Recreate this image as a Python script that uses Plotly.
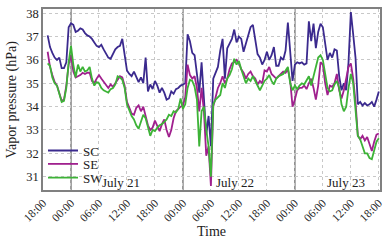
import plotly.graph_objects as go

# hours since July 20 18:00, half-hourly from 19:00
hours = [1 + 0.5 * i for i in range(143)]

sc_vp = [37.05, 36.55, 36.3, 36.1, 36.0, 36.1, 35.65, 35.65, 35.9, 37.4,
         37.57, 37.5, 37.2, 37.25, 37.35, 37.3, 37.15, 37.05, 37.0, 36.9,
         36.75, 36.6, 36.55, 36.65, 36.45, 36.25, 36.1, 36.05, 36.25, 36.45,
         36.55, 36.6, 36.9, 36.2, 35.55, 35.4, 35.3, 35.5, 35.3, 35.05,
         35.25, 35.0, 36.1, 34.65, 34.95, 34.75, 35.1, 34.9, 34.6, 34.8,
         34.6, 34.3, 34.35, 34.65, 34.55, 34.75, 34.8, 34.9, 34.95, 35.0,
         37.1, 36.8, 36.3, 36.2, 35.4, 34.6, 35.9, 34.5, 32.8, 33.6,
         32.3, 35.2, 35.45, 35.7, 36.4, 36.9, 35.2, 36.5, 36.7, 36.9,
         37.3, 36.75, 37.0, 36.9, 36.35, 36.7, 37.0, 37.4, 37.5, 36.9,
         36.25, 36.1, 35.8, 36.0, 36.35, 36.0, 36.2, 36.55, 35.75, 35.75,
         36.1, 36.0, 36.4, 37.6, 36.4, 35.1, 35.8, 35.9, 35.85, 35.9,
         35.8, 35.85, 37.65, 36.8, 37.55, 36.5, 37.2, 37.55, 37.4, 36.75,
         36.0, 36.3, 36.1, 36.45, 36.4, 35.3, 34.7, 35.0, 34.7, 35.9,
         38.05, 37.1, 36.1, 34.1, 34.2, 34.05, 34.15, 34.05, 34.1, 34.2,
         34.0, 34.3, 34.65]

se_vp = [36.35, 35.7, 35.35, 35.05, 34.9, 34.55, 34.25, 34.3, 34.9, 35.8,
         36.2, 35.5, 35.25, 35.3, 35.35, 35.45, 35.4, 35.45, 35.45, 35.1,
         35.0, 35.2, 35.35, 35.2, 35.05, 34.95, 34.8, 34.95, 34.85, 35.0,
         35.15, 35.3, 35.25, 34.9, 34.2, 33.9, 33.7, 33.65, 33.95, 34.05,
         33.8, 34.0, 33.65, 33.2, 33.0, 33.1, 33.4, 33.2, 32.95, 33.25,
         33.45, 33.0, 32.7, 33.0, 33.5, 33.8, 33.9, 34.0, 34.05, 34.4,
         35.8, 35.35, 35.2, 35.3, 34.8, 33.8, 34.8, 33.8, 31.9, 32.3,
         30.6, 34.0, 34.4, 34.8, 35.0, 35.3, 35.0, 35.2, 35.6, 35.85,
         35.9, 36.0, 35.85, 35.6, 35.45, 35.2, 35.4, 35.5, 35.3, 35.2,
         34.95, 35.1, 35.0, 35.55, 35.5, 35.7, 35.4, 35.3, 35.2, 35.3,
         35.4, 35.5, 35.45, 35.6, 35.1, 34.0, 34.3, 34.7, 34.8, 34.8,
         34.9, 34.75, 35.0, 35.2, 34.8, 34.3, 34.9, 35.9, 35.8, 35.0,
         34.5, 34.9, 34.85, 35.0, 35.4, 34.7, 34.35, 34.7, 35.2, 35.7,
         35.85, 35.2, 34.2, 32.75, 32.6, 32.75, 32.55, 32.7, 32.4, 32.1,
         32.5, 32.8, 32.85]

sw_vp = [35.85, 35.75, 35.25, 35.0, 34.9, 34.55, 34.2, 34.25, 34.8, 35.9,
         36.6, 35.8, 35.25, 35.8, 35.5, 35.7, 35.5, 35.55, 35.7, 35.2,
         34.9, 35.05, 35.0, 34.8, 34.7, 34.65, 34.6, 34.75, 34.8, 34.95,
         35.3, 35.25, 35.15, 34.8, 34.1, 33.85, 33.6, 33.45, 33.2, 33.05,
         33.4, 33.65, 33.5, 33.15, 32.75, 33.0, 32.95, 33.1, 33.2, 33.25,
         33.35, 33.45, 33.65, 33.6, 33.8, 33.75, 33.9, 34.35, 33.9, 34.1,
         34.8, 35.15, 35.1, 34.85, 34.3, 32.3, 33.8, 34.0, 33.0, 32.3,
         31.0, 34.1, 34.3, 34.4, 34.5, 35.0, 34.8, 35.2, 35.35, 35.6,
         36.05, 35.8, 35.95, 35.6, 35.3, 35.0, 35.2, 35.1, 35.3, 35.1,
         34.85, 34.7, 34.9, 35.1, 35.2, 35.35, 35.1, 34.95, 35.2, 35.3,
         35.35, 35.4, 35.55, 35.7, 35.0, 34.7, 34.9, 34.75, 34.9, 35.0,
         34.95, 35.1, 35.3, 34.9, 35.3, 35.8, 36.1, 36.2, 36.0, 35.4,
         34.8, 34.65, 34.7, 34.95, 35.1, 34.8, 34.1, 33.8, 34.0, 34.8,
         35.4, 35.0, 34.0, 32.75, 32.6, 32.3, 32.0, 32.0, 31.8, 31.75,
         32.1, 32.5, 32.65]

series_names = ["SC", "SE", "SW"]
series_colors = ["#3b2a8e", "#a0208e", "#3db337"]

tick_hours = [0, 6, 12, 18, 24, 30, 36, 42, 48, 54, 60, 66, 72]
tick_labels = ["18:00", "00:00", "06:00", "12:00", "18:00", "00:00", "06:00",
               "12:00", "18:00", "00:00", "06:00", "12:00", "18:00"]
midnight_hours = [6, 30, 54]
day_labels = ["July 21", "July 22", "July 23"]
day_label_hours = [16.7, 41.1, 65.0]
y_ticks = [31, 32, 33, 34, 35, 36, 37, 38]

font_family = "Liberation Serif"
legend_ids = ["legend", "legend2", "legend3"]
legend_y = [0.218, 0.144, 0.068]

fig = go.Figure()
for name, vals, col, lid in zip(series_names, [sc_vp, se_vp, sw_vp],
                                series_colors, legend_ids):
    fig.add_trace(go.Scatter(x=hours, y=vals, mode="lines", name=name,
                             legend=lid, line=dict(color=col, width=1.8)))

for h in midnight_hours:
    fig.add_shape(type="line", xref="x", yref="paper", x0=h, x1=h, y0=0, y1=1,
                  line=dict(color="#808080", width=1.5), layer="below")

for lab, h in zip(day_labels, day_label_hours):
    fig.add_annotation(x=h, y=30.73, xref="x", yref="y", text=lab,
                       showarrow=False, font=dict(size=13, color="#222222",
                                                  family=font_family))

# axis titles
fig.add_annotation(x=0.5, y=-0.23, xref="paper", yref="paper", text="Time",
                   showarrow=False, yanchor="middle",
                   font=dict(size=14, color="#222222", family=font_family))
fig.add_annotation(x=-0.092, y=0.5, xref="paper", yref="paper",
                   text="Vapor pressure (hPa)", textangle=-90, showarrow=False,
                   xanchor="center",
                   font=dict(size=14, color="#222222", family=font_family))

legend_style = {}
for lid, ly in zip(legend_ids, legend_y):
    legend_style[lid] = dict(x=0.0, y=ly, xanchor="left", yanchor="middle",
                             bgcolor="rgba(0,0,0,0)",
                             font=dict(size=13, family=font_family, color="#222222"),
                             itemwidth=30, tracegroupgap=0)

fig.update_layout(
    width=388, height=244,
    margin=dict(l=43, r=8, t=9, b=54, autoexpand=False),
    paper_bgcolor="white", plot_bgcolor="white",
    font=dict(family=font_family, size=13, color="#222222"),
    showlegend=True,
    **legend_style,
)
fig.update_xaxes(range=[0, 72.25], tickvals=tick_hours, ticktext=tick_labels,
                 tickangle=-45, showgrid=True, gridcolor="#c8c8c8",
                 griddash="dot", gridwidth=1, showline=True, mirror=True,
                 linecolor="#808080", linewidth=1.5, zeroline=False,
                 ticks="", tickfont=dict(size=11.5), automargin=False)
fig.update_yaxes(range=[30.43, 38.18], tickvals=y_ticks, showgrid=True,
                 gridcolor="#c8c8c8", griddash="dot", gridwidth=1,
                 showline=True, mirror=True, linecolor="#808080", linewidth=1.5,
                 zeroline=False, ticks="", tickfont=dict(size=12.5),
                 automargin=False)

fig.write_html("out.html", config={"displayModeBar": False},
               post_script="document.body.style.margin='0';"
                           "document.body.style.overflow='hidden';")
